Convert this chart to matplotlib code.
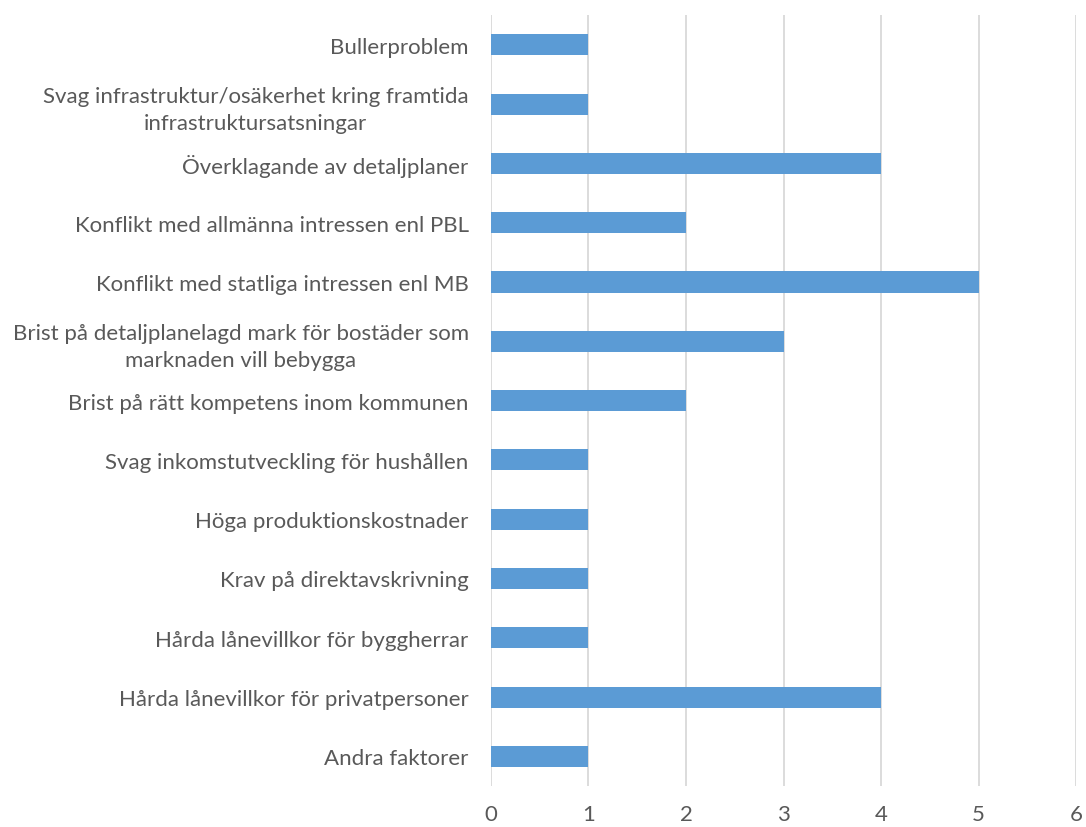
import matplotlib
matplotlib.use("Agg")
import matplotlib.pyplot as plt

categories = [
    "Bullerproblem",
    "Svag infrastruktur/osäkerhet kring framtida\ninfrastruktursatsningar",
    "Överklagande av detaljplaner",
    "Konflikt med allmänna intressen enl PBL",
    "Konflikt med statliga intressen enl MB",
    "Brist på detaljplanelagd mark för bostäder som\nmarknaden vill bebygga",
    "Brist på rätt kompetens inom kommunen",
    "Svag inkomstutveckling för hushållen",
    "Höga produktionskostnader",
    "Krav på direktavskrivning",
    "Hårda lånevillkor för byggherrar",
    "Hårda lånevillkor för privatpersoner",
    "Andra faktorer",
]
values = [1, 1, 4, 2, 5, 3, 2, 1, 1, 1, 1, 4, 1]
xticks = [0, 1, 2, 3, 4, 5, 6]

plt.rcParams['font.family'] = ['Lato', 'DejaVu Sans']
text_color = '#595959'

fig = plt.figure(figsize=(10.86, 8.28), dpi=100)
ax = fig.add_axes([0.452, 0.0495, 0.539, 0.931])

pos = list(range(len(categories)))
ax.barh(pos, values, height=0.355, color='#5B9BD5', zorder=3)
ax.set_ylim(len(categories) - 0.5, -0.5)
ax.set_xlim(0, 6)
ax.set_xticks(xticks)
ax.set_yticks(pos)
ax.set_yticklabels(categories, ha='right', multialignment='center', linespacing=1.45)
ax.grid(axis='x', color='#D9D9D9', linewidth=1.3, zorder=0)
for s in ax.spines.values():
    s.set_visible(False)
ax.tick_params(axis='both', length=0, colors=text_color, labelsize=16)
ax.tick_params(axis='y', pad=16)
ax.tick_params(axis='x', pad=13)

fig.savefig('out.png', dpi=100)
